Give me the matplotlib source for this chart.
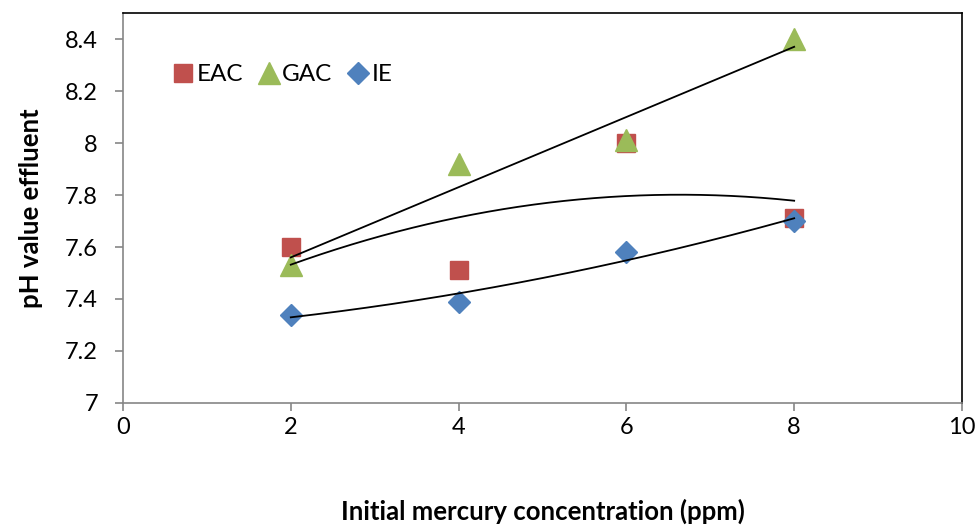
import numpy as np
import matplotlib
matplotlib.use("Agg")
import matplotlib.pyplot as plt

plt.rcParams['font.family'] = ['Lato', 'DejaVu Sans']

# Datos
conc = [2, 4, 6, 8]
eac = [7.60, 7.51, 8.00, 7.71]
gac = [7.53, 7.92, 8.01, 8.40]
ie = [7.34, 7.39, 7.58, 7.70]

x_ticks = [0, 2, 4, 6, 8, 10]
y_ticks = [7, 7.2, 7.4, 7.6, 7.8, 8, 8.2, 8.4]
y_labels = ["7", "7.2", "7.4", "7.6", "7.8", "8", "8.2", "8.4"]

fig = plt.figure(figsize=(9.8, 5.29), dpi=100)
ax = fig.add_axes([0.1255, 0.2382, 0.8561, 0.7372])

ax.plot(conc, eac, "s", color="#C0504D", markersize=13, label="EAC", zorder=3)
ax.plot(conc, gac, "^", color="#9BBB59", markersize=16, label="GAC", zorder=3)
ax.plot(conc, ie, "D", color="#4F81BD", markersize=11, label="IE", zorder=4)

# Líneas de tendencia (lineal para GAC, polinómica de orden 2 para EAC e IE)
xs = np.linspace(2, 8, 200)
ax.plot(xs, np.polyval(np.polyfit(conc, gac, 1), xs), color="black", lw=1.3, zorder=5)
ax.plot(xs, np.polyval(np.polyfit(conc, eac, 2), xs), color="black", lw=1.3, zorder=5)
ax.plot(xs, np.polyval(np.polyfit(conc, ie, 2), xs), color="black", lw=1.3, zorder=5)

ax.set_xlim(0, 10)
ax.set_ylim(7, 8.5)
ax.set_xticks(x_ticks)
ax.set_yticks(y_ticks)
ax.set_yticklabels(y_labels)
ax.tick_params(axis="both", direction="out", length=6, width=1.2, color="#868686",
               labelsize=17, pad=12)
ax.tick_params(axis="x", pad=4)

for side in ["left", "bottom"]:
    ax.spines[side].set_color("#868686")
    ax.spines[side].set_linewidth(1.2)
for side in ["top", "right"]:
    ax.spines[side].set_color("black")
    ax.spines[side].set_linewidth(1.2)

ax.set_xlabel("Initial mercury concentration (ppm)", fontsize=18.5, fontweight="bold", labelpad=44)
ax.set_ylabel("pH value effluent", fontsize=18.5, fontweight="bold", labelpad=16)

ax.legend(loc="upper left", bbox_to_anchor=(0.03, 0.925), ncol=3, frameon=False,
          fontsize=17.5, handletextpad=0.0, columnspacing=0.5, handlelength=1.1)

fig.savefig("out.png", dpi=100)
